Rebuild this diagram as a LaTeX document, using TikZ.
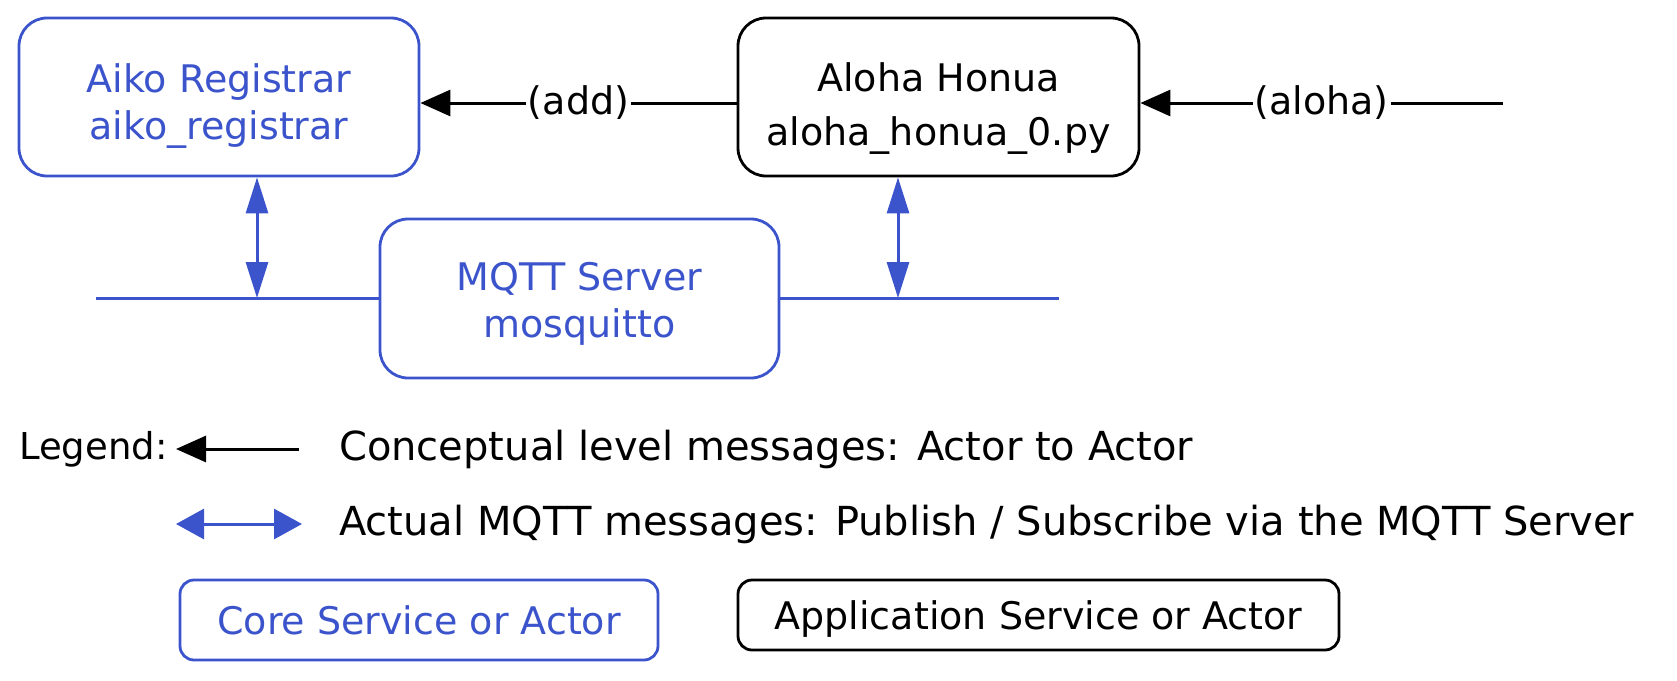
\documentclass[tikz,border=0pt]{standalone}
\usepackage{fontspec}
\setmainfont{DejaVu Sans}
\usetikzlibrary{arrows.meta}
\definecolor{exblue}{RGB}{59,84,204}
\begin{document}
\begin{tikzpicture}[x=1pt,y=-1pt,
  boxbase/.style={line width=2.8pt,rounded corners=28pt,fill=white,inner sep=0pt},
  core/.style={boxbase,draw=exblue},
  app/.style={boxbase,draw=black},
  coretxt/.style={text=exblue,align=center,inner sep=0pt,font=\fontsize{38}{47}\selectfont},
  apptxt/.style={text=black,align=center,inner sep=0pt,font=\fontsize{38}{54}\selectfont},
  msg/.style={-{Triangle[length=30pt,width=26pt]},line width=3pt,draw=black},
  mq/.style={{Triangle[length=36pt,width=22pt]}-{Triangle[length=36pt,width=22pt]},line width=3pt,draw=exblue},
  bus/.style={line width=3pt,draw=exblue},
  lbl/.style={fill=white,inner sep=2pt,font=\fontsize{38}{40}\selectfont},
  legtext/.style={anchor=west,inner sep=0pt,font=\fontsize{40}{44}\selectfont}]
\useasboundingbox (0,0) rectangle (1677,680);

% main boxes
\node[core,minimum width=400pt,minimum height=158pt] (aiko) at (219,97) {};
\node[coretxt,yshift=-9pt] (aikotxt) at (aiko.center) {Aiko Registrar\\aiko\_registrar};
\node[app,minimum width=401pt,minimum height=158pt] (aloha) at (938.5,97) {};
\node[apptxt,yshift=-12pt] (alohatxt) at (aloha.center) {Aloha Honua\\aloha\_honua\_0.py};
\node[core,minimum width=399pt,minimum height=159pt] (mqtt) at (579.5,298.5) {};
\node[coretxt,yshift=-5pt] (mqtttxt) at (mqtt.center) {MQTT Server\\mosquitto};

% conceptual messages
\coordinate (msgy) at (0,103);
\coordinate (alohasrc) at (1503,103);
\draw[msg] (aloha.west |- msgy) -- node[lbl] {(add)} (aiko.east |- msgy);
\draw[msg] (alohasrc) -- node[lbl] {(aloha)} (aloha.east |- msgy);

% bus
\coordinate (busL) at (96,298);
\coordinate (busR) at (1059,298);
\draw[bus] (busL) -- (mqtt.west |- busL);
\draw[bus] (mqtt.east |- busR) -- (busR);

% MQTT double arrows
\coordinate (lx) at (257,0);
\coordinate (rx) at (898,0);
\draw[mq] (aiko.south -| lx) -- (busL -| lx);
\draw[mq] (aloha.south -| rx) -- (busR -| rx);

% legend
\node[legtext,font=\fontsize{37}{44}\selectfont] (legend) at (19,449) {Legend:};
\coordinate (la1) at (299,449);
\coordinate (la2) at (176,449);
\draw[msg] (la1) -- (la2);
\node[legtext] (l1) at (339,449) {Conceptual level messages: Actor to Actor};
\coordinate (lb1) at (176,524);
\coordinate (lb2) at (302,524);
\draw[mq,{Triangle[length=28pt,width=30pt]}-{Triangle[length=28pt,width=30pt]}] (lb1) -- (lb2);
\node[legtext] (l2) at (339,524) {Actual MQTT messages: Publish / Subscribe via the MQTT Server};

\node[core,rounded corners=14pt,minimum width=478pt,minimum height=80pt] (lcore) at (419,620) {};
\node[coretxt] (lcoretxt) at (lcore.center) {Core Service or Actor};
\node[app,rounded corners=14pt,minimum width=601pt,minimum height=70pt] (lapp) at (1038.5,615) {};
\node[apptxt,yshift=-4pt] (lapptxt) at (lapp.center) {Application Service or Actor};
\end{tikzpicture}
\end{document}
